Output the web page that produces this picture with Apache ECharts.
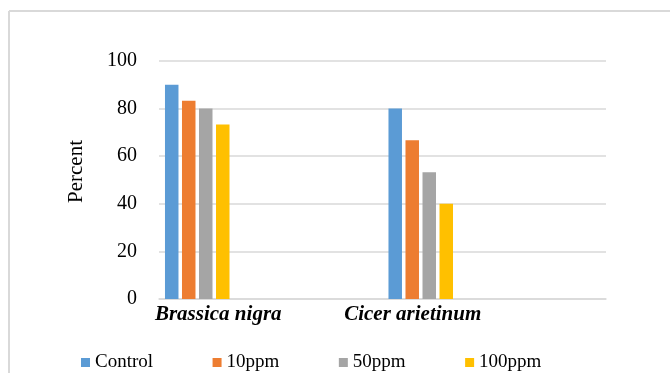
<!DOCTYPE html>
<html>
<head>
<meta charset="utf-8">
<script src="https://cdn.jsdelivr.net/npm/echarts@6/dist/echarts.min.js"></script>
<style>html,body{margin:0;padding:0;background:#fff;}#c{width:670px;height:373px;}</style>
</head>
<body>
<div id="c"></div>
<script>
const categories = ['Brassica nigra', 'Cicer arietinum'];
const seriesNames = ['Control', '10ppm', '50ppm', '100ppm'];
const controlValues = [90, 80];
const ppm10Values = [83.3, 66.7];
const ppm50Values = [80, 53.3];
const ppm100Values = [73.3, 40];
const yTicks = [0, 20, 40, 60, 80, 100];

const colors = ['#5B9BD5', '#ED7D31', '#A5A5A5', '#FFC000'];
const values = [controlValues, ppm10Values, ppm50Values, ppm100Values];
const serif = 'Liberation Serif';

const chart = echarts.init(document.getElementById('c'), null, {renderer: 'canvas'});
const series = seriesNames.map((n, i) => ({
  name: n, type: 'bar', data: values[i], barWidth: 13.5, barGap: '26%',
  itemStyle: {color: colors[i]}, silent: true
}));
// empty spacer slot (keeps the group layout as in the original, draws nothing)
series.push({name: 'spacer', type: 'bar', data: categories.map(() => null), barWidth: 143.5, barGap: '26%', silent: true});

chart.setOption({
  animation: false,
  backgroundColor: '#fff',
  grid: {left: 159, right: 64, top: 61, bottom: 74, containLabel: false},
  legend: {
    data: seriesNames.map(n => ({name: n, icon: 'rect'})),
    left: 81, top: 353, padding: 0, itemWidth: 9, itemHeight: 9, itemGap: 59.5,
    textStyle: {fontFamily: serif, fontSize: 19, color: '#000', padding: [0, 0, 0, 0]},
    selectedMode: false
  },
  xAxis: {
    type: 'category', data: categories,
    axisLine: {show: true, lineStyle: {color: '#d9d9d9', width: 1.5}},
    axisTick: {show: false},
    axisLabel: {
      margin: 5,
      formatter: function (v, i) { return i === 0 ? '{a|' + v + '}' : '{b|' + v + '}'; },
      rich: {
        a: {fontFamily: serif, fontSize: 21, fontWeight: 'bold', fontStyle: 'italic', color: '#000', padding: [0, 105, 0, 0]},
        b: {fontFamily: serif, fontSize: 21, fontWeight: 'bold', fontStyle: 'italic', color: '#000', padding: [0, 163, 0, 0]}
      }
    }
  },
  yAxis: {
    type: 'value', min: yTicks[0], max: yTicks[yTicks.length - 1], interval: 20,
    name: 'Percent', nameLocation: 'middle', nameGap: 72, nameRotate: 90,
    nameTextStyle: {fontFamily: serif, fontSize: 21, color: '#000', padding: [0, 0, 0, 17]},
    axisLine: {show: false}, axisTick: {show: false},
    axisLabel: {fontFamily: serif, fontSize: 20, color: '#000', margin: 22},
    splitLine: {lineStyle: {color: '#d9d9d9', width: 1.5}}
  },
  series: series,
  graphic: [
    {type: 'line', shape: {x1: 9, y1: 11, x2: 9, y2: 373}, style: {stroke: '#d9d9d9', lineWidth: 2}, silent: true},
    {type: 'line', shape: {x1: 9, y1: 11, x2: 670, y2: 11}, style: {stroke: '#d9d9d9', lineWidth: 2}, silent: true}
  ]
});
</script>
</body>
</html>
